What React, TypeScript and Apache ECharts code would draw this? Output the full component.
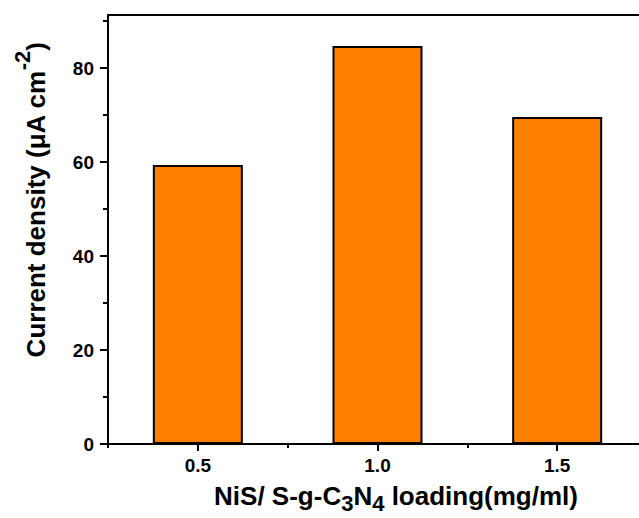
import React, { useEffect, useRef } from "react";
import * as echarts from "echarts";

// ---- data ----
const loadings: number[] = [0.5, 1.0, 1.5];
const currentDensity: number[] = [59.4, 84.7, 69.6];
const xMajorTicks: number[] = [0.5, 1.0, 1.5];
const xMinorTicks: number[] = [0.25, 0.75, 1.25, 1.75];
const yMajorTicks: number[] = [0, 20, 40, 60, 80];
const yMinorTicks: number[] = [10, 30, 50, 70, 90];
const xRange: number[] = [0.25, 1.75];
const yRange: number[] = [0, 91.3];

const FONT = "'Liberation Sans', Arial, sans-serif";

export default function App() {
  const ref = useRef<HTMLDivElement>(null);
  useEffect(() => {
    if (!ref.current) return;
    const chart = echarts.init(ref.current, undefined, { renderer: "svg" });
    const axisLine = { show: true, onZero: false, lineStyle: { color: "#000", width: 2 } };
    const labelStyle = { color: "#000", fontFamily: FONT, fontWeight: "bold" as const, fontSize: 19 };
    chart.setOption({
      animation: false,
      backgroundColor: "#fff",
      grid: {
        left: 108,
        right: 0,
        top: 15,
        bottom: 74,
        show: true,
        borderColor: "#000",
        borderWidth: 2,
        backgroundColor: "transparent",
      },
      xAxis: [
        {
          type: "value",
          position: "bottom",
          min: xRange[0],
          max: xRange[1],
          interval: 0.25,
          axisLine,
          splitLine: { show: false },
          axisTick: { show: true, customValues: xMajorTicks, length: 7, lineStyle: { color: "#000", width: 2 } },
          axisLabel: {
            ...labelStyle,
            margin: 12,
            customValues: xMajorTicks,
            formatter: (v: number) => v.toFixed(1),
          },
        },
        {
          type: "value",
          position: "bottom",
          min: xRange[0],
          max: xRange[1],
          interval: 0.25,
          axisLine: { show: false },
          splitLine: { show: false },
          axisTick: { show: true, customValues: xMinorTicks, length: 4, lineStyle: { color: "#000", width: 2 } },
          axisLabel: { show: false },
        },
      ],
      yAxis: [
        {
          type: "value",
          position: "left",
          min: yRange[0],
          max: yRange[1],
          interval: 20,
          axisLine,
          splitLine: { show: false },
          axisTick: { show: true, customValues: yMajorTicks, length: 8, lineStyle: { color: "#000", width: 2 } },
          axisLabel: { ...labelStyle, margin: 14, customValues: yMajorTicks },
        },
        {
          type: "value",
          position: "left",
          min: yRange[0],
          max: yRange[1],
          interval: 10,
          axisLine: { show: false },
          splitLine: { show: false },
          axisTick: { show: true, customValues: yMinorTicks, length: 5, lineStyle: { color: "#000", width: 2 } },
          axisLabel: { show: false },
        },
      ],
      series: [
        {
          type: "bar",
          xAxisIndex: 0,
          yAxisIndex: 0,
          barWidth: 90,
          data: loadings.map((x, i) => [x, currentDensity[i]]),
          itemStyle: { color: "#FF8000", borderColor: "#000", borderWidth: 2 },
        },
      ],
      graphic: [
        {
          type: "text",
          x: 396,
          y: 496,
          style: {
            text: "{b|NiS/ S-g-C}{s|3}{b|N}{s|4}{b| loading(mg/ml)}",
            align: "center",
            verticalAlign: "middle",
            rich: {
              b: { fontFamily: FONT, fontWeight: "bold", fontSize: 26, fill: "#000", color: "#000" },
              s: { fontFamily: FONT, fontWeight: "bold", fontSize: 22, fill: "#000", color: "#000", padding: [15, 0, 0, 0] },
            },
          },
        },
        {
          type: "text",
          x: 36,
          y: 200,
          rotation: Math.PI / 2,
          style: {
            text: "{b|Current density (\u03bcA cm}{s|-2}{b|)}",
            align: "center",
            verticalAlign: "middle",
            rich: {
              b: { fontFamily: FONT, fontWeight: "bold", fontSize: 26, fill: "#000", color: "#000" },
              s: { fontFamily: FONT, fontWeight: "bold", fontSize: 22, fill: "#000", color: "#000", padding: [0, 0, 27, 0] },
            },
          },
        },
      ],
    });
    return () => chart.dispose();
  }, []);
  return (
    <div style={{ position: "fixed", left: 0, top: 0, width: 639, height: 518, overflow: "hidden", background: "#fff" }}>
      <div ref={ref} style={{ width: 647, height: 518 }} />
    </div>
  );
}
